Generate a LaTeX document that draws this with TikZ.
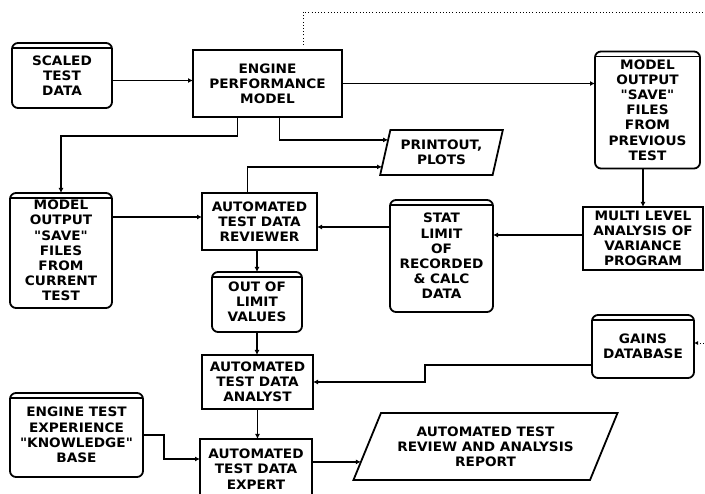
\documentclass[tikz,border=0pt]{standalone}
\usepackage{fontspec}
\newfontfamily\lbl{DejaVu Sans}[FakeStretch=1.05]
\usetikzlibrary{arrows.meta,shapes.geometric,calc}
\begin{document}
\begin{tikzpicture}[x=1pt,y=-1pt,
  every node/.style={font=\lbl\bfseries\fontsize{13}{15.2}\selectfont, align=center, inner sep=0pt, outer sep=0pt},
  box/.style={draw, line width=1.8pt},
  db/.style={draw, line width=1.8pt, rounded corners=6pt},
  para/.style={draw, line width=1.8pt, trapezium, trapezium stretches=true},
  arr/.style={line width=1.7pt, -{Latex[length=5pt,width=5pt]}},
  dots/.style={line width=0.9pt, dash pattern=on 0.9pt off 2.3pt}]
\useasboundingbox (0,0) rectangle (705,494);
\clip (0,0) rectangle (705,494);
\newcommand{\dbtop}[1]{\draw[line width=1.3pt] ([yshift=-5pt]#1.north west) -- ([yshift=-5pt]#1.north east);}

% nodes
\node[db, minimum width=100, minimum height=65] (scaled) at (62,75.5) {SCALED\\TEST\\DATA};
\node[box, minimum width=149, minimum height=67] (epm) at (267.5,83.5) {ENGINE\\PERFORMANCE\\MODEL};
\node[db, minimum width=105, minimum height=117] (prev) at (647.5,110) {MODEL\\OUTPUT\\"SAVE"\\FILES\\FROM\\PREVIOUS\\TEST};
\node[para, trapezium left angle=72, trapezium right angle=108, minimum width=123, minimum height=45] (print) at (441.5,152.5) {PRINTOUT,\\PLOTS};
\node[db, minimum width=102, minimum height=115] (mcur) at (61,250.5) {MODEL\\OUTPUT\\"SAVE"\\FILES\\FROM\\CURRENT\\TEST};
\node[box, minimum width=115, minimum height=57] (rev) at (259.5,221.5) {AUTOMATED\\TEST DATA\\REVIEWER};
\node[db, minimum width=103, minimum height=112] (stat) at (441.5,256) {STAT\\LIMIT\\OF\\RECORDED\\\& CALC\\DATA};
\node[box, minimum width=120, minimum height=63] (anova) at (643,238.5) {MULTI LEVEL\\ANALYSIS OF\\VARIANCE\\PROGRAM};
\node[db, minimum width=90, minimum height=60] (ool) at (257,302) {OUT OF\\LIMIT\\VALUES};
\node[box, minimum width=111, minimum height=54] (analyst) at (257.5,382) {AUTOMATED\\TEST DATA\\ANALYST};
\node[db, minimum width=102, minimum height=63] (gains) at (643,346.5) {GAINS\\DATABASE};
\node[db, minimum width=133, minimum height=84] (kb) at (76.5,435) {ENGINE TEST\\EXPERIENCE\\"KNOWLEDGE"\\BASE};
\node[box, minimum width=112, minimum height=60] (expert) at (256,469) {AUTOMATED\\TEST DATA\\EXPERT};
\node[para, trapezium left angle=60, trapezium right angle=120, minimum width=265, minimum height=67] (report) at (485.5,446.5) {AUTOMATED TEST\\REVIEW AND ANALYSIS\\REPORT};

\dbtop{scaled}\dbtop{prev}\dbtop{mcur}\dbtop{stat}\dbtop{ool}\dbtop{gains}\dbtop{kb}

% helper coordinates
\coordinate (p1) at ($(print.top left corner)!0.22!(print.bottom left corner)$);
\coordinate (p2) at ($(print.top left corner)!0.82!(print.bottom left corner)$);
\coordinate (r1) at ($(rev.west)+(0,-4.5)$);
\coordinate (r2) at ($(rev.east)+(0,5.5)$);
\coordinate (s1) at ($(stat.east)+(0,-21)$);
\coordinate (g1) at ($(gains.west)+(0,18.5)$);
\coordinate (e1) at ($(expert.east)+(0,-7)$);
\coordinate (q1) at ($(report.top left corner)!0.73!(report.bottom left corner)$);
\coordinate (x1) at ($(expert.west)+(0,-10)$);
\coordinate (d0) at ($(epm.north)+(35.5,-5)$);
\coordinate (dend) at (707,12);
\coordinate (gin) at (707,343);

% connectors
\draw[arr] ([yshift=-5pt]scaled.east) -- ([yshift=-5pt]scaled.east -| epm.west);
\draw[arr] (epm.east) -- (epm.east -| prev.west);
\draw[arr] ([xshift=12pt]epm.south) |- (p1);
\draw[arr] ([xshift=-30pt]epm.south) -- ++(0,19) -| (mcur.north);
\draw[arr] ([xshift=-12pt]rev.north) |- (p2);
\draw[arr] (mcur.east |- r1) -- (r1);
\draw[arr] (stat.west |- r2) -- (r2);
\draw[arr] (anova.west |- s1) -- (s1);
\draw[arr] (prev.south -| anova.north) -- (anova.north);
\draw[arr] (rev.south -| ool.north) -- (ool.north);
\draw[arr] (ool.south) -- (ool.south |- analyst.north);
\draw[arr] (analyst.south) -- (analyst.south |- expert.north);
\draw[arr] (g1) -- ++(-167,0) |- (analyst.east);
\draw[arr] (kb.east) -- ++(21,0) |- (x1);
\draw[arr] (e1) -- (q1);
\draw[dots] (d0) -- (d0 |- dend) -- (dend);
\draw[dots, -{Latex[length=4pt,width=4pt]}] (gin) -- (gin -| gains.east);
\end{tikzpicture}
\end{document}
